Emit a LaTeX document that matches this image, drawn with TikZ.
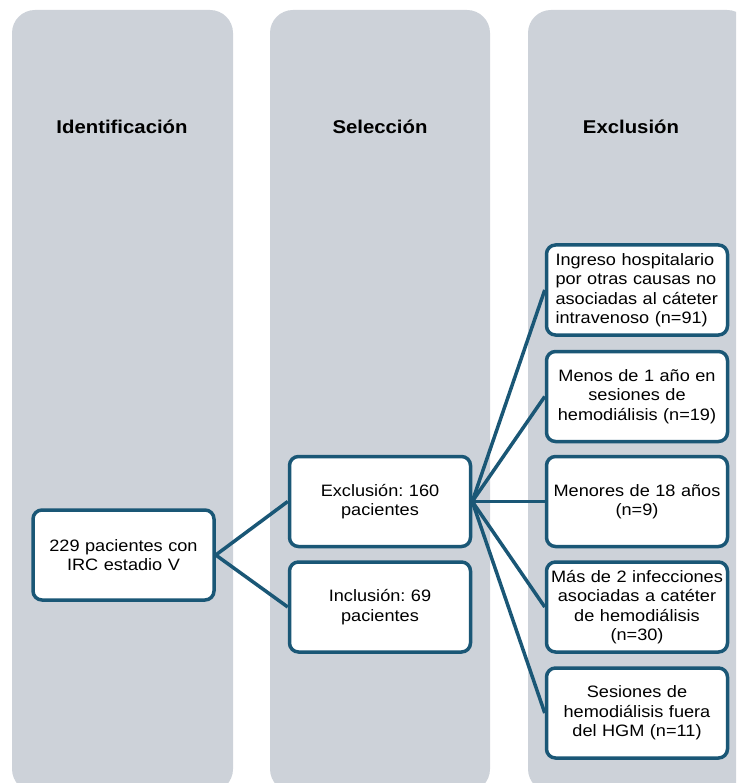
\documentclass[tikz,border=0pt]{standalone}
\usepackage{fontspec}
\setmainfont[FakeStretch=1.1]{Liberation Sans}
\definecolor{colfill}{HTML}{CDD2D9}
\definecolor{edgeblue}{HTML}{1A5776}
\frenchspacing
\begin{document}
\begin{tikzpicture}[x=1pt,y=1pt,
  column/.style={fill=colfill, rounded corners=23pt},
  title/.style={font=\fontsize{18.5}{22}\selectfont\bfseries, text=black},
  box/.style={draw=edgeblue, line width=3.5pt, fill=white, rounded corners=9pt,
    minimum width=181pt, minimum height=90pt, inner sep=0pt, align=center,
    text width=176pt, font=\fontsize{16.5}{19.5}\selectfont\frenchspacing},
  conn/.style={draw=edgeblue, line width=3.5pt}]
\useasboundingbox (0,0) rectangle (736,-783);
\begin{scope}
\clip (0,0) rectangle (736,-783);
\fill[column] (12,-10) rectangle (233,-792);
\fill[column] (270,-10) rectangle (490,-792);
\fill[column] (528,-10) rectangle (750,-792);
\end{scope}
\node[title] (t1) at (122,-127) {Identificación};
\node[title] (t2) at (380,-127) {Selección};
\node[title] (t3) at (631,-127) {Exclusión};

\node[box] (a) at (123.5,-555) {229 pacientes con\\IRC estadio V};
\node[box] (b) at (380,-501.5) {Exclusión: 160\\pacientes};
\node[box] (c) at (380,-607) {Inclusión: 69\\pacientes};

\node[box] (e1) at (637,-290) {\makebox[163pt][s]{Ingreso hospitalario}\\\makebox[163pt][s]{por otras causas no}\\\makebox[163pt][s]{asociadas al cáteter}\\\makebox[163pt][l]{intravenoso (n=91)}};
\node[box] (e2) at (637,-396.5) {Menos de 1 año en\\sesiones de\\hemodiálisis (n=19)};
\node[box] (e3) at (637,-501.5) {Menores de 18 años\\(n=9)};
\node[box] (e4) at (637,-607) {Más de 2 infecciones\\asociadas a catéter\\de hemodiálisis\\(n=30)};
\node[box] (e5) at (637,-713) {Sesiones de\\hemodiálisis fuera\\del HGM (n=11)};

\draw[conn] (a.east) -- (b.west);
\draw[conn] (a.east) -- (c.west);
\foreach \e in {e1,e2,e3,e4,e5}{
  \draw[conn] (b.east) -- (\e.west);
}
\end{tikzpicture}
\end{document}
